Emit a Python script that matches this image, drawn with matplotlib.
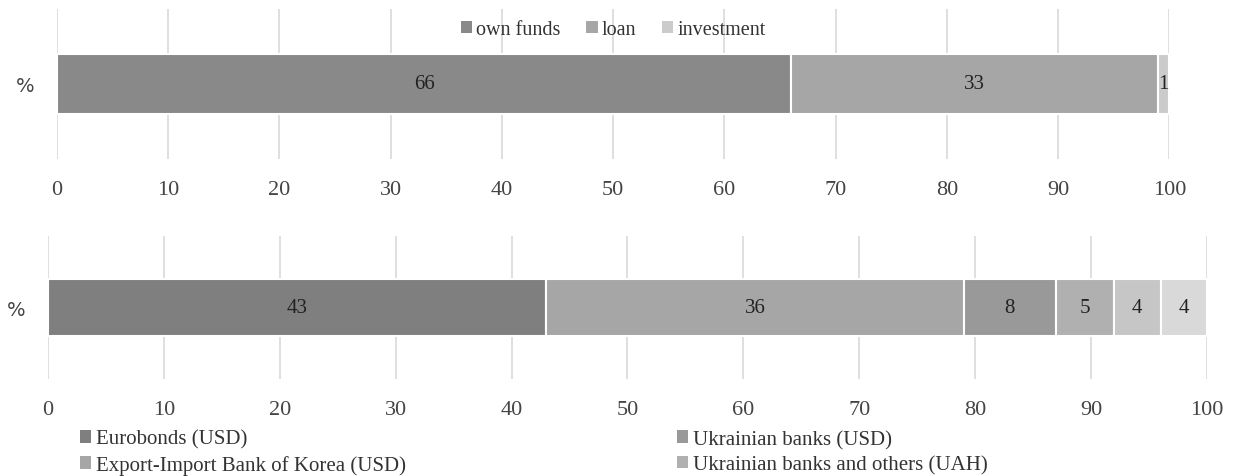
import matplotlib.pyplot as plt
from matplotlib.patches import Patch

# top chart: sources of financing
top_labels = ["own funds", "loan", "investment"]
top_values = [66, 33, 1]
top_colors = ["#898989", "#a6a6a6", "#cbcbcb"]

# bottom chart: structure of loans
bot_labels = ["Eurobonds (USD)", "Export-Import Bank of Korea (USD)",
              "Ukrainian banks (USD)", "Ukrainian banks and others (UAH)", "", ""]
bot_values = [43, 36, 8, 5, 4, 4]
bot_colors = ["#7f7f7f", "#a6a6a6", "#999999", "#b0b0b0", "#c6c6c6", "#d9d9d9"]

plt.rcParams['font.family'] = ['Liberation Serif', 'DejaVu Serif']

fig = plt.figure(figsize=(12.4, 4.77), dpi=100)
ax1 = fig.add_axes([0.046, 0.665, 0.897, 0.314])
ax2 = fig.add_axes([0.0387, 0.203, 0.9346, 0.300])


def stacked(ax, values, colors, labels, pad):
    left = 0
    handles = []
    for v, c, lab in zip(values, colors, labels):
        ax.barh(0, v, left=left, height=0.4, color=c, edgecolor="white", linewidth=1.5, zorder=3)
        ax.text(left + v / 2, 0, str(v), ha="center", va="center", fontsize=15, color="#222222", zorder=4)
        if lab:
            handles.append(Patch(facecolor=c, label=lab))
        left += v
    ax.set_xlim(0, 100)
    ax.set_ylim(-0.5, 0.5)
    ax.set_xticks(range(0, 101, 10))
    ax.set_yticks([0])
    ax.set_yticklabels(["%"], family="DejaVu Sans", fontsize=14, color="#444444")
    ax.grid(axis="x", color="#d9d9d9", linewidth=1.2, zorder=0)
    for s in ax.spines.values():
        s.set_visible(False)
    ax.tick_params(axis="x", length=0, pad=pad, labelsize=16, labelcolor="#444444")
    ax.tick_params(axis="y", length=0, pad=16)
    return handles


h1 = stacked(ax1, top_values, top_colors, top_labels, 15)
h2 = stacked(ax2, bot_values, bot_colors, bot_labels, 15)

leg_kw = dict(frameon=False, handlelength=0.55, handleheight=0.55,
              handletextpad=0.2, labelcolor="#333333")
ax1.legend(handles=h1, loc="center", bbox_to_anchor=(0.5, 0.86), ncol=3,
           columnspacing=1.3, fontsize=14.5, **leg_kw)
fig.legend(handles=h2[:2], loc="center left", bbox_to_anchor=(0.0645, 0.05),
           labelspacing=0.3, borderaxespad=0, borderpad=0, fontsize=15, **leg_kw)
fig.legend(handles=h2[2:], loc="center left", bbox_to_anchor=(0.546, 0.05),
           labelspacing=0.3, borderaxespad=0, borderpad=0, fontsize=15, **leg_kw)

fig.savefig("out.png", dpi=100)
